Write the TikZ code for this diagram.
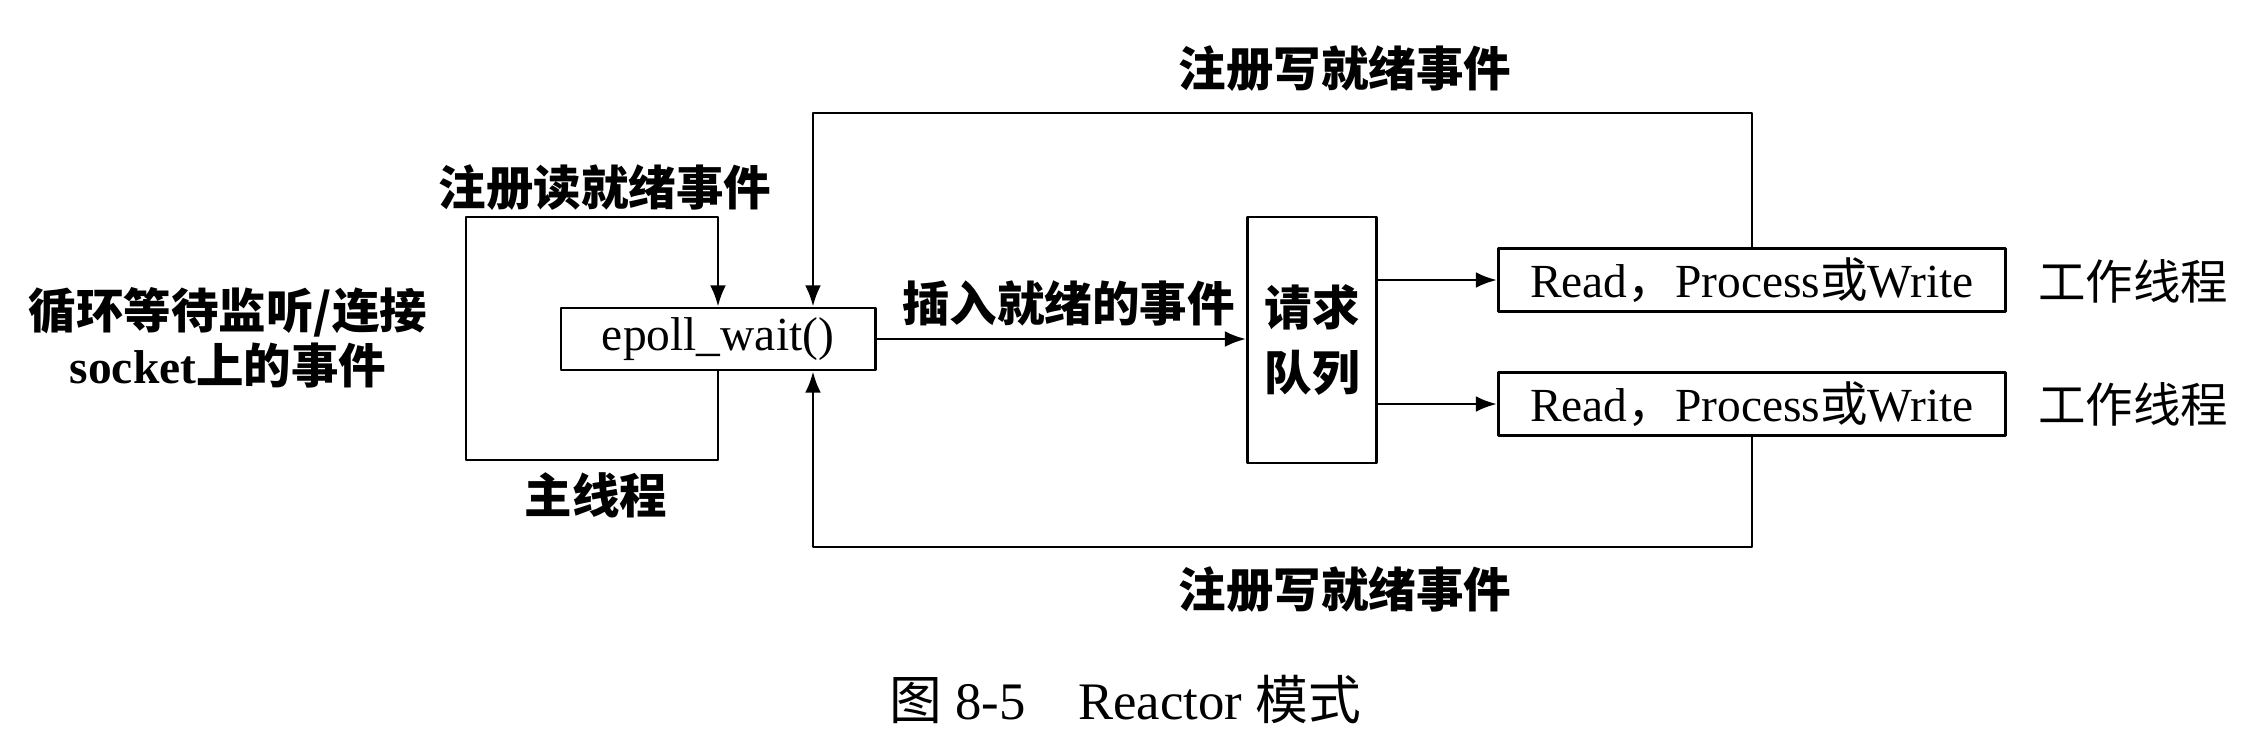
\documentclass[tikz,border=0pt]{standalone}
\usepackage{fontspec}
\setmainfont{Liberation Serif}
\newfontfamily\cjk{Noto Sans CJK SC}
\usetikzlibrary{arrows.meta}

\begin{document}
\begin{tikzpicture}[line cap=round,line join=round,>={Latex[length=6pt,width=4.5pt]},x=0.01cm,y=-0.01cm,
  line width=0.8pt,
  box/.style={draw,line width=0.8pt,inner sep=0pt,font=\fontsize{13.5}{16}\selectfont},
  lbl/.style={font=\cjk\bfseries\fontsize{13.5}{18.5}\selectfont,align=center},
  wlbl/.style={font=\cjk\fontsize{13.5}{16}\selectfont}]
\useasboundingbox (0,0) rectangle (2268,747);
% boxes
\node[box,minimum width=3.14cm,minimum height=0.62cm] (epoll) at (718,339) {epoll\_wait()};
\node[box,lbl,minimum width=1.29cm,minimum height=2.46cm] (queue) at (1312,340) {请求\\队列};
\node[box,minimum width=5.07cm,minimum height=0.63cm] (rpw1) at (1752,280) {Read{\cjk ，}Process{\cjk 或}Write};
\node[box,minimum width=5.07cm,minimum height=0.63cm] (rpw2) at (1752,404) {Read{\cjk ，}Process{\cjk 或}Write};
% corners
\coordinate (loopbl) at (466,460);
\coordinate (looptl) at (466,217);
\coordinate (wrtop) at (813,113);
\coordinate (wrbot) at (813,547);
% connectors
\draw[->] (epoll.south) |- (loopbl) -- (looptl) -| (epoll.north);
\draw[->] (rpw1.north) |- (wrtop) -- (wrtop |- epoll.north);
\draw[->] (rpw2.south) |- (wrbot) -- (wrbot |- epoll.south);
\draw[->] (epoll.east) -- (epoll.east -| queue.west) node[lbl,midway,above=0pt,xshift=2pt] (insert) {插入就绪的事件};
\draw[->] (queue.east |- rpw1.west) -- (rpw1.west);
\draw[->] (queue.east |- rpw2.west) -- (rpw2.west);
% labels
\node[lbl,font=\cjk\bfseries\fontsize{13.5}{15.5}\selectfont] (loopt) at (228,338) {循环等待监听/连接\\{\rmfamily\bfseries socket}上的事件};
\node[lbl] (rdreg) at (605,188) {注册读就绪事件};
\node[lbl] (mainth) at (596,495) {主线程};
\node[lbl] (wrreg1) at (1345,69) {注册写就绪事件};
\node[lbl] (wrreg2) at (1345,590) {注册写就绪事件};
\node[wlbl] (work1) at (2133,281) {工作线程};
\node[wlbl] (work2) at (2133,404) {工作线程};
\node[font=\fontsize{15}{17}\selectfont] (caption) at (1125,699) {{\cjk 图} 8-5\quad Reactor {\cjk 模式}};
\end{tikzpicture}
\end{document}
